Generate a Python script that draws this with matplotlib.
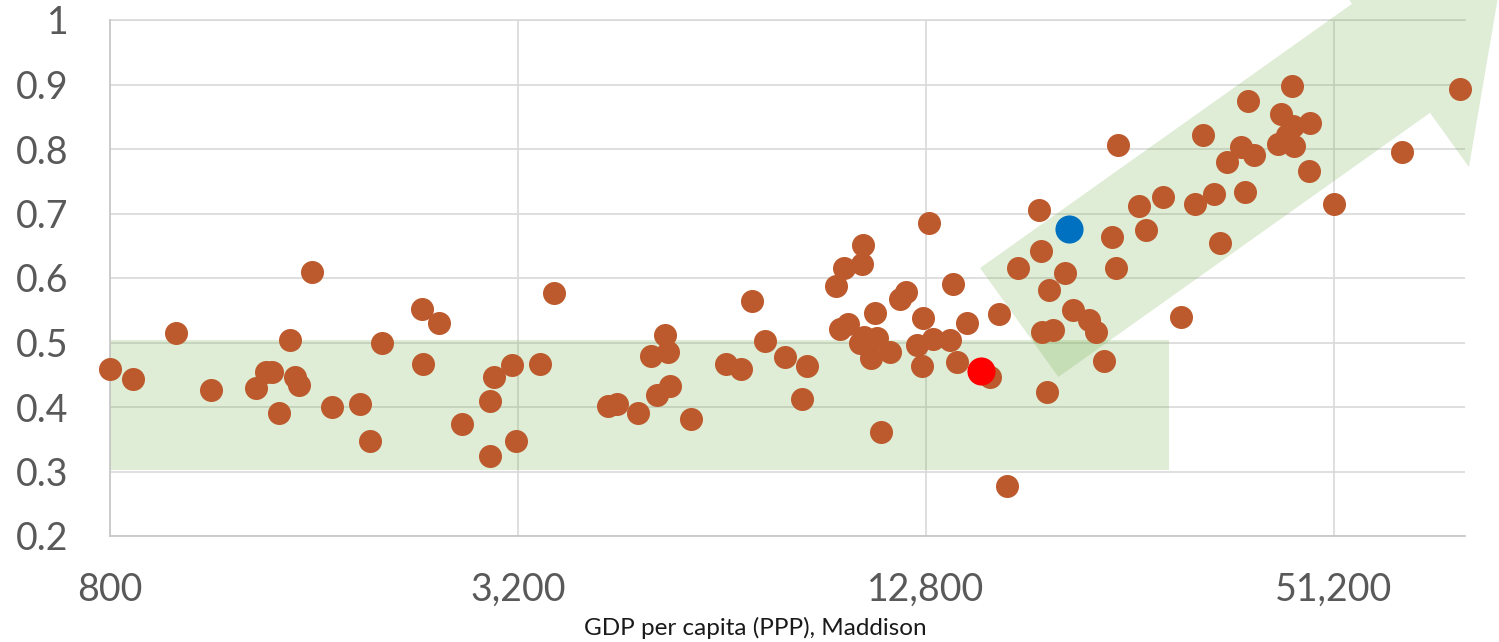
import matplotlib.pyplot as plt
import numpy as np
from matplotlib.ticker import FixedLocator, FuncFormatter

plt.rcParams['font.family'] = ['Lato', 'DejaVu Sans']

# GDP per capita (PPP, Maddison) and index value for each country
gdp = [800, 865, 1001, 1129, 1313, 1361, 1387, 1423, 1477, 1502,
       1523, 1588, 1703, 1868, 1937, 2016, 2309, 2316, 2451, 2646,
       2913, 2946, 2913, 3133, 3182, 3452, 3612, 4353, 4480, 4811,
       5028, 5282, 5336, 5133, 5374, 5762, 6483, 6838, 7101, 7415,
       7936, 8543, 8394, 10354, 9697, 10308, 9437, 11951, 11730, 12957,
       14058, 9566, 9839, 10775, 10361, 10837, 10618, 11338, 10240, 12696,
       12414, 13135, 13916, 12653, 14223, 14713, 16418, 10996, 15909, 18830,
       17532, 18939, 19481, 18985, 19309, 20568, 21135, 22294, 22829, 19748,
       23483, 16890, 24079, 24419, 26450, 28665, 27060, 31957, 30442, 78653,
       64622, 51340, 44437, 38295, 32836, 42834, 47320, 44632, 43689, 42413,
       44695, 37346, 39094, 35631, 47044, 34055, 37878, 34745, 24629]
index = [0.459, 0.443, 0.515, 0.427, 0.430, 0.455, 0.454, 0.390, 0.504, 0.446,
         0.434, 0.609, 0.400, 0.405, 0.347, 0.499, 0.552, 0.467, 0.530, 0.374,
         0.409, 0.447, 0.324, 0.465, 0.347, 0.466, 0.577, 0.401, 0.404, 0.391,
         0.479, 0.511, 0.486, 0.419, 0.433, 0.382, 0.467, 0.459, 0.565, 0.503,
         0.478, 0.463, 0.412, 0.651, 0.615, 0.621, 0.587, 0.579, 0.567, 0.686,
         0.590, 0.521, 0.528, 0.546, 0.509, 0.507, 0.476, 0.486, 0.499, 0.538,
         0.496, 0.505, 0.504, 0.463, 0.470, 0.531, 0.544, 0.362, 0.446, 0.705,
         0.615, 0.642, 0.581, 0.517, 0.424, 0.608, 0.551, 0.535, 0.517, 0.519,
         0.472, 0.277, 0.664, 0.616, 0.712, 0.726, 0.674, 0.714, 0.540, 0.893,
         0.795, 0.714, 0.898, 0.875, 0.821, 0.855, 0.841, 0.835, 0.822, 0.807,
         0.804, 0.803, 0.791, 0.780, 0.766, 0.731, 0.733, 0.655, 0.806]

# highlighted countries
red_gdp, red_index = [15418], [0.456]
blue_gdp, blue_index = [20809], [0.676]

xticks = [800, 3200, 12800, 51200]
yticks = [0.2, 0.3, 0.4, 0.5, 0.6, 0.7, 0.8, 0.9, 1.0]

# background shapes: flat band and rising arrow
band_x = [800, 29255]
band_y = [0.303, 0.504]
arrow_x = [15392, 20088, 71018, 81080, 90390, 47722, 54489]
arrow_y = [0.6155, 0.4465, 0.856, 0.772, 1.062, 1.110, 1.025]

fig = plt.figure(figsize=(14.99, 6.42), dpi=100)
ax = fig.add_axes([110/1499, 106/642, 1355/1499, 516/642])
ax.set_xscale('log')
ax.set_xlim(800, 80000)
ax.set_ylim(0.2, 1.0)

green = '#70AD47'
ax.fill_between(band_x, band_y[0], band_y[1], color=green, alpha=0.22,
                linewidth=0, zorder=1)
ax.fill(arrow_x, arrow_y, color=green, alpha=0.22, linewidth=0,
        zorder=1, clip_on=False)

ax.scatter(gdp, index, s=275, color='#BD5A2D', linewidths=0, zorder=3,
           clip_on=False)
ax.scatter(red_gdp, red_index, s=410, color='#FF0000', linewidths=0, zorder=4)
ax.scatter(blue_gdp, blue_index, s=410, color='#0070C0', linewidths=0, zorder=4)

# axes formatting
ax.xaxis.set_major_locator(FixedLocator(xticks))
ax.xaxis.set_minor_locator(FixedLocator([]))
ax.xaxis.set_major_formatter(FuncFormatter(lambda v, p: f'{v:,.0f}'))
ax.set_yticks(yticks)
ax.yaxis.set_major_formatter(FuncFormatter(lambda v, p: f'{v:g}'))
ax.grid(True, color='#D9D9D9', linewidth=1.2, zorder=0)
ax.set_axisbelow(True)
ax.tick_params(axis='both', length=0, labelsize=27, labelcolor='#595959')
ax.tick_params(axis='x', pad=26)
ax.tick_params(axis='y', pad=30)
for side in ['top', 'right']:
    ax.spines[side].set_visible(False)
ax.spines['left'].set_color('#C8C8C8')
ax.spines['bottom'].set_color('#C8C8C8')
ax.spines['left'].set_linewidth(1.3)
ax.spines['bottom'].set_linewidth(1.3)
ax.axhline(1.0, color='#D9D9D9', linewidth=1.2, clip_on=False, zorder=0)

fig.text(755/1499, 14/642, 'GDP per capita (PPP), Maddison', fontsize=17.5,
         color='#1A1A1A', ha='center', va='center')

fig.savefig('out.png', dpi=100)
